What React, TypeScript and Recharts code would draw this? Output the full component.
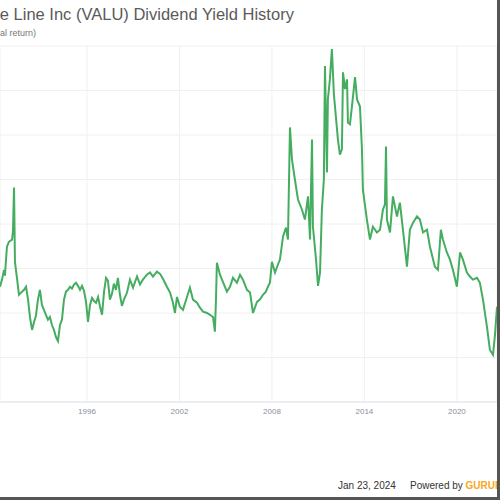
import { LineChart, Line, XAxis, YAxis, CartesianGrid } from 'recharts';

const years = [
  1990.36, 1990.49, 1990.62, 1990.68, 1990.81, 1990.94, 1991.14, 1991.2, 1991.27, 1991.33,
  1991.46, 1991.59, 1991.79, 1991.92, 1992.05, 1992.18, 1992.31, 1992.44, 1992.57, 1992.69,
  1992.82, 1992.95, 1993.08, 1993.21, 1993.34, 1993.47, 1993.6, 1993.73, 1993.86, 1993.99,
  1994.12, 1994.25, 1994.38, 1994.51, 1994.64, 1994.77, 1994.9, 1995.03, 1995.16, 1995.29,
  1995.42, 1995.55, 1995.68, 1995.81, 1995.94, 1996.07, 1996.2, 1996.33, 1996.46, 1996.59,
  1996.72, 1996.85, 1996.98, 1997.11, 1997.24, 1997.36, 1997.49, 1997.62, 1997.75, 1997.88,
  1998.01, 1998.14, 1998.27, 1998.4, 1998.6, 1998.79, 1998.99, 1999.25, 1999.44, 1999.63,
  1999.89, 2000.09, 2000.28, 2000.54, 2000.74, 2000.93, 2001.19, 2001.39, 2001.58, 2001.71,
  2001.84, 2002.03, 2002.23, 2002.49, 2002.68, 2002.88, 2003.14, 2003.33, 2003.53, 2003.79,
  2003.98, 2004.18, 2004.3, 2004.37, 2004.43, 2004.63, 2004.82, 2005.08, 2005.28, 2005.47,
  2005.73, 2005.93, 2006.12, 2006.38, 2006.58, 2006.77, 2007.03, 2007.22, 2007.42, 2007.61,
  2007.74, 2007.87, 2008.0, 2008.2, 2008.39, 2008.52, 2008.72, 2008.91, 2009.04, 2009.17,
  2009.3, 2009.49, 2009.69, 2009.95, 2010.14, 2010.34, 2010.47, 2010.6, 2010.66, 2010.86,
  2010.99, 2011.12, 2011.24, 2011.37, 2011.44, 2011.57, 2011.63, 2011.76, 2011.89, 2012.02,
  2012.09, 2012.28, 2012.41, 2012.54, 2012.61, 2012.74, 2012.87, 2012.93, 2013.06, 2013.19,
  2013.39, 2013.52, 2013.71, 2013.84, 2013.9, 2014.16, 2014.36, 2014.55, 2014.81, 2015.01,
  2015.2, 2015.33, 2015.4, 2015.46, 2015.66, 2015.85, 2016.11, 2016.3, 2016.5, 2016.76,
  2016.95, 2017.15, 2017.41, 2017.6, 2017.8, 2018.06, 2018.25, 2018.57, 2018.77, 2018.96,
  2019.09, 2019.35, 2019.55, 2019.74, 2020.0, 2020.2, 2020.39, 2020.65, 2020.84, 2021.04,
  2021.3, 2021.49, 2021.69, 2021.95, 2022.14, 2022.34, 2022.47, 2022.6,
];

// dividend yield (%)
const yields = [
  2.59, 2.75, 2.97, 2.84, 3.49, 3.6, 3.65, 3.83, 4.82, 3.15,
  2.79, 2.41, 2.48, 2.52, 2.59, 2.3, 1.89, 1.62, 1.8, 1.94,
  2.3, 2.52, 2.18, 2.07, 1.96, 1.85, 1.91, 1.73, 1.62, 1.46,
  1.37, 1.73, 1.85, 2.3, 2.48, 2.52, 2.59, 2.55, 2.64, 2.68,
  2.61, 2.52, 2.61, 2.5, 2.25, 1.8, 2.18, 2.34, 2.27, 2.23,
  2.36, 2.14, 1.96, 2.48, 2.79, 2.73, 2.3, 2.43, 2.66, 2.52,
  2.79, 2.41, 2.16, 2.3, 2.46, 2.75, 2.57, 2.82, 2.64, 2.75,
  2.86, 2.91, 2.82, 2.93, 2.88, 2.77, 2.59, 2.46, 2.23, 2.0,
  2.36, 2.14, 2.07, 2.36, 2.57, 2.3, 2.23, 2.12, 2.03, 2.0,
  1.96, 1.91, 1.58, 2.3, 3.13, 2.86, 2.7, 2.48, 2.59, 2.79,
  2.68, 2.86, 2.75, 2.52, 2.46, 2.0, 2.25, 2.3, 2.41, 2.48,
  2.59, 2.68, 3.15, 2.91, 3.09, 3.2, 3.72, 3.92, 3.65, 6.17,
  5.45, 5.0, 4.55, 4.32, 4.1, 4.62, 3.65, 5.9, 3.94, 3.2,
  2.61, 2.91, 4.32, 5.0, 7.55, 5.16, 6.8, 7.25, 7.93, 6.91,
  6.64, 5.9, 5.56, 5.68, 7.41, 7.03, 7.25, 6.28, 6.24, 6.64,
  7.3, 6.8, 6.64, 5.68, 4.77, 4.1, 3.65, 3.94, 3.81, 3.87,
  4.32, 4.44, 5.74, 4.1, 3.81, 4.62, 4.17, 4.48, 3.87, 3.04,
  3.87, 4.03, 4.17, 4.1, 3.81, 3.87, 3.49, 3.04, 2.97, 3.87,
  3.65, 3.36, 3.2, 2.97, 2.59, 3.36, 3.2, 2.91, 2.82, 2.75,
  2.79, 2.68, 2.3, 1.69, 1.17, 1.06, 1.51, 2.14,
];

const xTicks = [1996, 2002, 2008, 2014, 2020];
const yTicks = [0, 1, 2, 3, 4, 5, 6, 7, 8];

const data = years.map((year, i) => ({ year, yield: yields[i] }));

const font = '"Liberation Sans", Arial, sans-serif';

export default function App() {
  return (
    <div style={{ position: 'absolute', left: 0, top: 0, width: 500, height: 500, overflow: 'hidden', background: '#fff', fontFamily: font }}>
      {/* title is cut at the left edge, as in the source image */}
      <div style={{ position: 'absolute', left: -32, top: 5, fontSize: 16.5, color: '#5a5a5a', whiteSpace: 'nowrap' }}>
        Value Line Inc (VALU) Dividend Yield History
      </div>
      <div style={{ position: 'absolute', left: 0, top: 28, fontSize: 9, color: '#777', whiteSpace: 'nowrap' }}>
        al return)
      </div>
      <div style={{ position: 'absolute', left: 0, top: 0 }}>
        <LineChart width={497} height={500} data={data} margin={{ top: 46, right: 0, bottom: 78, left: 0 }}>
          <CartesianGrid stroke="#f0f0f0" />
          <XAxis
            dataKey="year"
            type="number"
            domain={[1990.36, 2022.6]}
            ticks={xTicks}
            tickLine={false}
            tickSize={4}
            tickMargin={2}
            axisLine={{ stroke: '#dfe3ea' }}
            tick={{ fontSize: 8, fill: '#8a8fa0', fontFamily: font }}
            height={20}
            allowDataOverflow
          />
          <YAxis hide domain={[0, 8]} ticks={yTicks} />
          <Line type="linear" dataKey="yield" stroke="#45ad60" strokeWidth={2} dot={false} isAnimationActive={false} />
        </LineChart>
      </div>
      <div style={{ position: 'absolute', left: 338, top: 480, fontSize: 10, color: '#333', whiteSpace: 'nowrap' }}>
        Jan 23, 2024
      </div>
      <div style={{ position: 'absolute', left: 410, top: 480, fontSize: 10, color: '#333', whiteSpace: 'nowrap' }}>
        Powered by <span style={{ color: '#f7a823', fontWeight: 'bold' }}>GURUFOCUS</span>
      </div>
      <div style={{ position: 'absolute', left: 497, top: 0, width: 3, height: 500, background: '#555' }} />
      <div style={{ position: 'absolute', left: 0, top: 497, width: 500, height: 3, background: '#555' }} />
    </div>
  );
}
